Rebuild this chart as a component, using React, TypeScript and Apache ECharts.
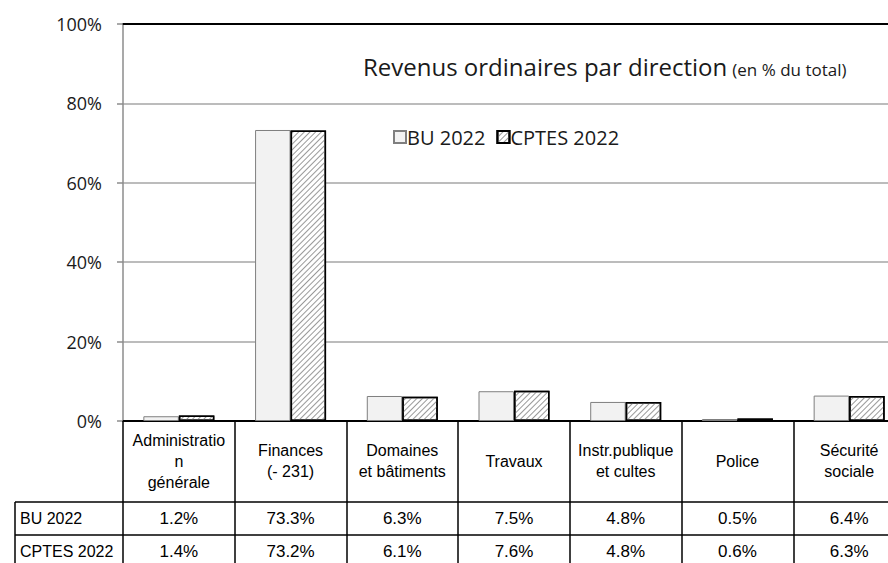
import React, { useEffect, useRef } from 'react';
import * as echarts from 'echarts';

const categories = [
  'Administratio\nn\ngénérale',
  'Finances\n(- 231)',
  'Domaines\net bâtiments',
  'Travaux',
  'Instr.publique\net cultes',
  'Police',
  'Sécurité\nsociale',
];
const seriesNames = ['BU 2022', 'CPTES 2022'];
const bu2022 = [1.2, 73.3, 6.3, 7.5, 4.8, 0.5, 6.4];
const cptes2022 = [1.4, 73.2, 6.1, 7.6, 4.8, 0.6, 6.3];
const yMin = 0;
const yMax = 100;
const yInterval = 20;
const titleMain = 'Revenus ordinaires par direction';
const titleSub = '(en % du total)';

const SANS = '"Open Sans", "Noto Sans", sans-serif';
const NARROW = '"Liberation Sans", Arial, sans-serif';
const fmt = (v: number) => `${v.toFixed(1)}%`;

export default function App() {
  const ref = useRef<HTMLDivElement>(null);
  useEffect(() => {
    if (!ref.current) return;
    const chart = echarts.init(ref.current, undefined, { renderer: 'svg' });
    const tableLabel = {
      interval: 0,
      verticalAlign: 'middle' as const,
      fontSize: 16,
      fontFamily: NARROW,
      color: '#000',
    };
    chart.setOption({
      animation: false,
      backgroundColor: '#fff',
      title: {
        left: 358,
        top: 41,
        text: `{a|${titleMain}} {b|${titleSub}}`,
        textStyle: {
          fontWeight: 'normal',
          rich: {
            a: { fontSize: 24, fontWeight: 'normal', fontFamily: SANS, color: '#1a1a1a', verticalAlign: 'bottom', lineHeight: 32 },
            b: { fontSize: 17, fontWeight: 'normal', fontFamily: SANS, color: '#1a1a1a', verticalAlign: 'bottom', lineHeight: 32 },
          },
        },
      },
      legend: {
        left: 388,
        top: 122,
        itemWidth: 12,
        itemHeight: 12,
        itemGap: 11,
        icon: 'rect',
        data: seriesNames,
        textStyle: { fontSize: 20, fontFamily: SANS, color: '#1a1a1a', padding: [0, 0, 0, -4] },
      },
      grid: { left: 123, right: 0, top: 24, bottom: 142 },
      xAxis: [
        {
          type: 'category',
          data: categories,
          position: 'bottom',
          axisLine: { show: true, lineStyle: { color: '#000', width: 2 } },
          axisTick: { show: true, interval: 0, length: 142, lineStyle: { color: '#000', width: 1.5 } },
          axisLabel: { ...tableLabel, margin: 40, lineHeight: 21 },
        },
        {
          type: 'category',
          data: bu2022.map(fmt),
          position: 'bottom',
          axisLine: { show: false },
          axisTick: { show: false },
          axisLabel: { ...tableLabel, fontSize: 17, margin: 97 },
        },
        {
          type: 'category',
          data: cptes2022.map(fmt),
          position: 'bottom',
          axisLine: { show: false },
          axisTick: { show: false },
          axisLabel: { ...tableLabel, fontSize: 17, margin: 130 },
        },
        {
          type: 'category',
          data: categories,
          position: 'top',
          axisLine: { show: true, lineStyle: { color: '#000', width: 2 } },
          axisTick: { show: false },
          axisLabel: { show: false },
        },
      ],
      yAxis: {
        type: 'value',
        min: yMin,
        max: yMax,
        interval: yInterval,
        axisLine: { show: true, lineStyle: { color: '#8c8c8c', width: 1.5 } },
        axisTick: { show: true, length: 6, lineStyle: { color: '#8c8c8c', width: 1.5 } },
        splitLine: { show: true, lineStyle: { color: '#a6a6a6', width: 1.5 } },
        axisLabel: { formatter: '{value}%', margin: 21, fontSize: 18, fontFamily: SANS, color: '#1a1a1a' },
      },
      series: [
        {
          name: seriesNames[0],
          type: 'bar',
          data: bu2022,
          barWidth: 35.5,
          barGap: '0%',
          itemStyle: { color: '#f2f2f2', borderColor: '#7f7f7f', borderWidth: 1 },
        },
        {
          name: seriesNames[1],
          type: 'bar',
          data: cptes2022,
          barWidth: 35.5,
          barGap: '0%',
          itemStyle: {
            color: '#ffffff',
            borderColor: '#000',
            borderWidth: 1.5,
            decal: {
              symbol: 'rect',
              symbolSize: 1,
              dashArrayX: [1, 0],
              dashArrayY: [1, 3],
              rotation: -Math.PI / 4,
              color: '#999999',
            },
          },
        },
      ],
      graphic: [
        { type: 'line', shape: { x1: 15, y1: 502, x2: 905, y2: 502 }, style: { stroke: '#000', lineWidth: 1.5 } },
        { type: 'line', shape: { x1: 15, y1: 535, x2: 905, y2: 535 }, style: { stroke: '#000', lineWidth: 1.5 } },
        { type: 'line', shape: { x1: 15, y1: 502, x2: 15, y2: 563 }, style: { stroke: '#000', lineWidth: 1.5 } },
        {
          type: 'text',
          x: 20,
          y: 518.5,
          style: { text: seriesNames[0], fontSize: 16, fontFamily: NARROW, fill: '#000', verticalAlign: 'middle', align: 'left' },
        },
        {
          type: 'text',
          x: 20,
          y: 551.5,
          style: { text: seriesNames[1], fontSize: 16, fontFamily: NARROW, fill: '#000', verticalAlign: 'middle', align: 'left' },
        },
      ],
    });
    return () => chart.dispose();
  }, []);
  return (
    <div style={{ position: 'fixed', left: 0, top: 0, width: 888, height: 563, overflow: 'hidden' }}>
      <div ref={ref} style={{ width: 905, height: 563 }} />
    </div>
  );
}
